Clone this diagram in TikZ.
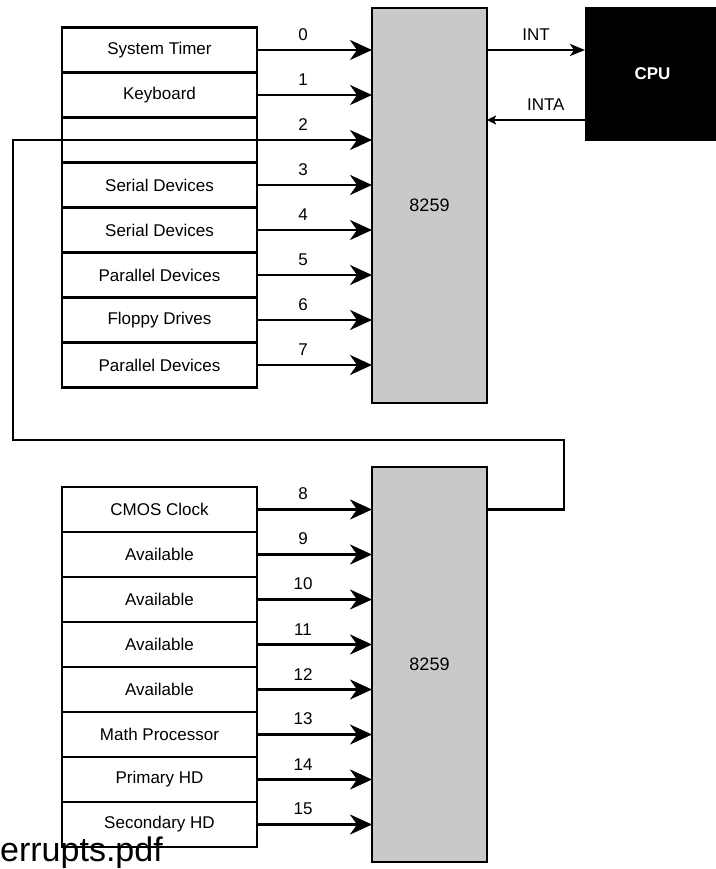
\documentclass[tikz,border=0pt]{standalone}
\usepackage{fontspec}
\setmainfont{Liberation Sans}
\usepackage{tikz}
\usetikzlibrary{arrows.meta,positioning}
\definecolor{chipgray}{HTML}{C9C9C9}
\tikzset{
  dev/.style={draw,line width=2.8pt,fill=white,minimum width=195pt,minimum height=45pt,inner sep=0pt,outer sep=0pt},
  chip/.style={draw,line width=2.8pt,fill=chipgray,minimum width=115pt,minimum height=395pt,inner sep=0pt,outer sep=0pt,font=\fontsize{18}{20}\selectfont},
  cpubox/.style={draw,fill=black,text=white,minimum width=135pt,minimum height=133pt,inner sep=0pt,outer sep=0pt,font=\bfseries\fontsize{17}{20}\selectfont},
  wire/.style={line width=2.8pt},
  ar/.style={-{Stealth[length=22pt,width=20pt,inset=7pt]},line width=2.8pt},
  ari/.style={-{Stealth[length=15pt,width=12pt,inset=4pt]},line width=2.8pt},
  ara/.style={-{Stealth[length=9pt,width=9pt,inset=2pt]},line width=2.8pt},
  num/.style={pos=0.4,above=8pt,inner sep=0pt}
}

\begin{document}
\begin{tikzpicture}[x=1pt,y=-1pt,font=\fontsize{17}{20}\selectfont]
\useasboundingbox (0,0) rectangle (715,869);
% interrupt controllers and cpu
\node[chip] (pa) at (429.5,205.5) {8259};
\node[chip] (pb) at (429.5,664.5) {8259};
\node[cpubox] (cpu) at (652.5,73.5) {CPU};
% master devices
\node[dev] (t0) at (159.5,50) {System Timer};
\foreach \i/\txt [remember=\i as \j (initially 0)] in {1/Keyboard,2/{},3/Serial Devices,4/Serial Devices,5/Parallel Devices,6/Floppy Drives,7/Parallel Devices}{
  \node[dev,below=0pt of t\j] (t\i) {\txt};
}
% slave devices
\node[dev] (b8) at (159.5,509.5) {CMOS Clock};
\foreach \i/\txt [remember=\i as \j (initially 8)] in {9/Available,10/Available,11/Available,12/Available,13/Math Processor,14/Primary HD,15/Secondary HD}{
  \node[dev,below=0pt of b\j] (b\i) {\txt};
}
% cascade line
\coordinate (cr) at (564,440);
\coordinate (cl) at (13,440);
\draw[wire] (pb.east |- b8) -| (cr) -- (cl) |- (t2.east);
% irq lines
\foreach \i in {0,...,7}{\draw[ar] (t\i.east) -- node[num] {\i} (t\i.east -| pa.west);}
\foreach \i in {8,...,15}{\draw[ar] (b\i.east) -- node[num] {\i} (b\i.east -| pb.west);}
\draw[ari] (pa.east |- t0) -- node[midway,above=8pt,inner sep=0pt] {INT} (cpu.west |- t0);
\draw[ara] ([yshift=-46.5pt]cpu.west) -- node[num] {INTA} ([yshift=-46.5pt]cpu.west -| pa.east);
\node[anchor=base west,inner sep=0pt,font=\fontsize{34}{38}\selectfont] (fn) at (0,861) {errupts.pdf};
\end{tikzpicture}
\end{document}
